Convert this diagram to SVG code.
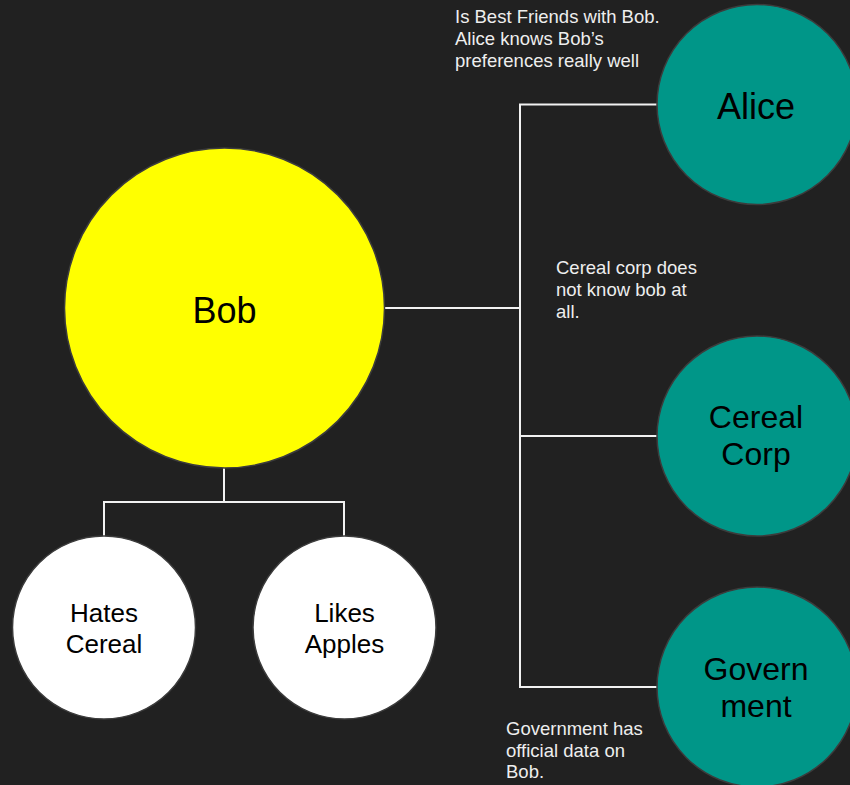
<svg xmlns="http://www.w3.org/2000/svg" width="850" height="785" viewBox="0 0 850 785">
  <style>
    .node { stroke: #3c3c3c; stroke-width: 1.5; }
    .bob { fill: #ffff00; }
    .friend { fill: #009688; }
    .trait { fill: #ffffff; }
    .label { font-family: "Liberation Sans", Arial, sans-serif; fill: #000000; text-anchor: middle; }
    .note { font-family: "Liberation Sans", Arial, sans-serif; fill: #eeeeee; font-size: 18.5px; }
    .link { fill: none; stroke: #f2f2f2; stroke-width: 2; }
  </style>
  <rect width="850" height="785" fill="#212121"/>

  <g id="connectors">
    <!-- Bob to the three outer parties -->
    <polyline class="link" points="385,308 520,308"/>
    <polyline class="link" points="657,104.5 520,104.5 520,687 657,687"/>
    <polyline class="link" points="520,436 657,436"/>
    <!-- Bob to his traits -->
    <polyline class="link" points="224,468 224,502"/>
    <polyline class="link" points="104,536 104,502 344,502 344,536"/>
  </g>

  <g id="bob">
    <circle class="node bob" cx="224.5" cy="308" r="160"/>
    <text class="label" x="224.5" y="323" font-size="36">Bob</text>
  </g>

  <g id="alice">
    <circle class="node friend" cx="757" cy="104.5" r="100"/>
    <text class="label" x="756" y="119" font-size="36">Alice</text>
  </g>

  <g id="cereal-corp">
    <circle class="node friend" cx="757" cy="436" r="100"/>
    <text class="label" x="756" y="428" font-size="32">Cereal</text>
    <text class="label" x="756" y="465" font-size="32">Corp</text>
  </g>

  <g id="government">
    <circle class="node friend" cx="757" cy="687" r="100"/>
    <text class="label" x="756" y="680" font-size="32">Govern</text>
    <text class="label" x="756" y="717" font-size="32">ment</text>
  </g>

  <g id="hates-cereal">
    <circle class="node trait" cx="104" cy="627.5" r="91.5"/>
    <text class="label" x="104" y="622" font-size="26">Hates</text>
    <text class="label" x="104" y="653" font-size="26">Cereal</text>
  </g>

  <g id="likes-apples">
    <circle class="node trait" cx="344.5" cy="627.5" r="91.5"/>
    <text class="label" x="344.5" y="622" font-size="26">Likes</text>
    <text class="label" x="344.5" y="653" font-size="26">Apples</text>
  </g>

  <g id="notes">
    <text class="note" x="455" y="23">Is Best Friends with Bob.</text>
    <text class="note" x="455" y="45">Alice knows Bob’s</text>
    <text class="note" x="455" y="67">preferences really well</text>

    <text class="note" x="556" y="274">Cereal corp does</text>
    <text class="note" x="556" y="296">not know bob at</text>
    <text class="note" x="556" y="318">all.</text>

    <text class="note" x="506" y="735">Government has</text>
    <text class="note" x="506" y="757">official data on</text>
    <text class="note" x="506" y="778">Bob.</text>
  </g>
</svg>
